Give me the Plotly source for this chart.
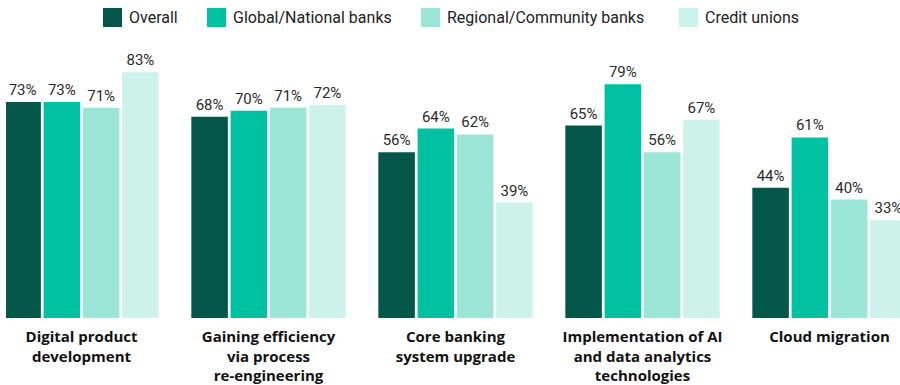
import plotly.graph_objects as go

# Survey results: share of respondents per initiative
categories = [
    "Digital product<br>development",
    "Gaining efficiency<br>via process<br>re-engineering",
    "Core banking<br>system upgrade",
    "Implementation of AI<br>and data analytics<br>technologies",
    "Cloud migration",
]
series_names = ["Overall", "Global/National banks", "Regional/Community banks", "Credit unions"]
overall = [73, 68, 56, 65, 44]
global_national = [73, 70, 64, 79, 61]
regional_community = [71, 71, 62, 56, 40]
credit_unions = [83, 72, 39, 67, 33]

series_values = [overall, global_national, regional_community, credit_unions]
colors = ["#035748", "#00C2A0", "#9CE6D8", "#CCF2EA"]

W, H = 900, 385
ML, MR, MT, MB = 6, 0, 22, 67
PW, PH = W - ML - MR, H - MT - MB

fig = go.Figure()
for name, vals, col in zip(series_names, series_values, colors):
    fig.add_trace(go.Bar(
        x=categories,
        y=vals,
        name=name,
        marker=dict(color=col, line=dict(width=0)),
        text=[f"{v}%" for v in vals],
        textposition="outside",
        textfont=dict(family="Roboto", size=15, color="#2b2b2b"),
        cliponaxis=False,
        showlegend=False,
        hoverinfo="skip",
    ))

# Custom legend: swatch + label, positioned in pixels then mapped to paper coords
def px_x(px):
    return (px - ML) / PW

def px_y(py):
    return (H - MB - py) / PH

legend_x = [103, 207, 421, 679]
shapes = []
annotations = []
for name, col, lx in zip(series_names, colors, legend_x):
    shapes.append(dict(
        type="rect", xref="paper", yref="paper",
        x0=px_x(lx), x1=px_x(lx + 19), y0=px_y(27), y1=px_y(8),
        fillcolor=col, line=dict(width=0),
    ))
    annotations.append(dict(
        xref="paper", yref="paper", x=px_x(lx + 24), y=px_y(18),
        xanchor="left", yanchor="middle", showarrow=False,
        text=name, font=dict(family="Roboto", size=16, color="#222222"),
    ))

# Category axis: groups are 1 unit (187 px) apart, view starts 6 px into the first group
fig.update_layout(
    width=W, height=H,
    margin=dict(l=ML, r=MR, t=MT, b=MB, pad=0),
    paper_bgcolor="white", plot_bgcolor="white",
    barmode="group", bargap=0.16, bargroupgap=0.07,
    shapes=shapes, annotations=annotations,
    xaxis=dict(
        type="category",
        range=[(6 - 81.5) / 187, (900 - 81.5) / 187],
        showgrid=False, zeroline=False, showline=False, ticks="",
        ticklabelstandoff=8,
        tickfont=dict(family="Open Sans", size=15, color="#111111"),
        tickvals=list(range(len(categories))),
        ticktext=[f"<b>{c}</b>" for c in categories],
        fixedrange=True,
    ),
    yaxis=dict(range=[0, 100], visible=False, fixedrange=True),
)

fig.write_html("out.html")
